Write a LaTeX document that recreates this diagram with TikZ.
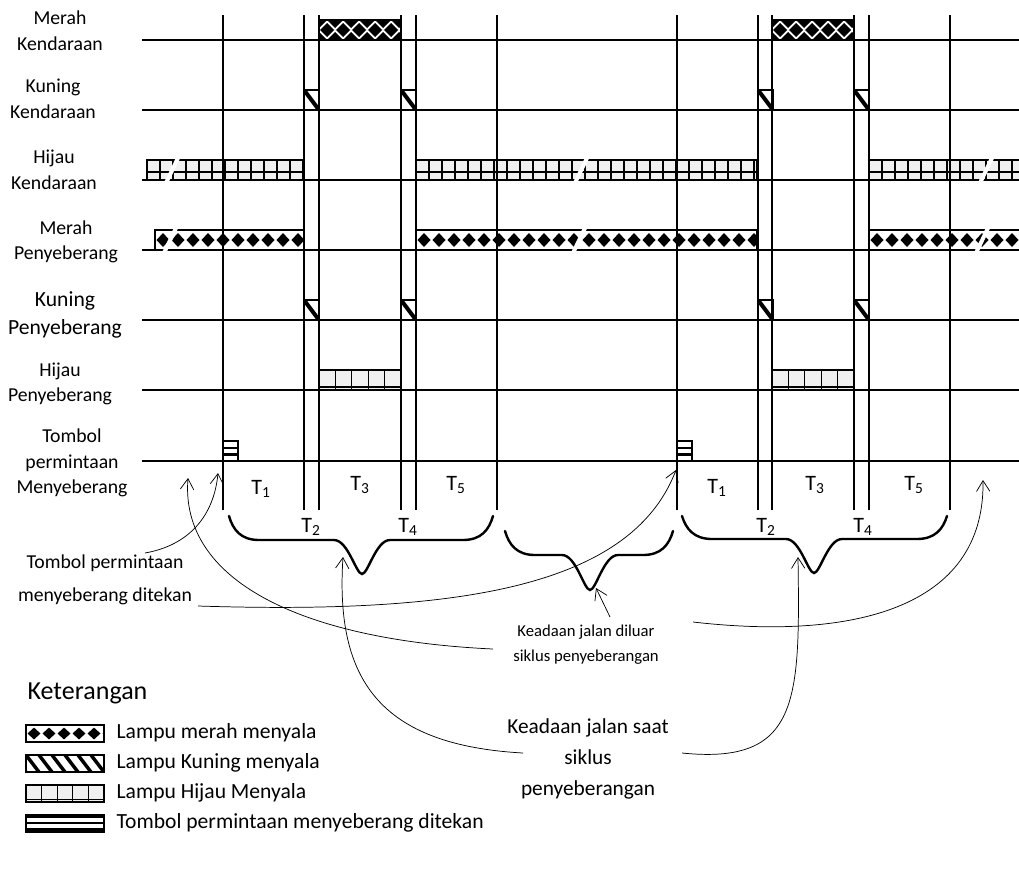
\documentclass[tikz,border=0pt]{standalone}
\usepackage{fontspec}
\setmainfont{Carlito}
\usepackage{tikz}
\usetikzlibrary{arrows.meta,calc}
\definecolor{CellGray}{HTML}{F0F0F0}
\definecolor{CellGrayDark}{HTML}{E4E4E4}
\tikzset{
  gridline/.style={line width=1.5pt},
  rowlabel/.style={align=center,inner sep=1pt,font=\fontsize{14.8}{19.2}\selectfont},
  rowlabelbig/.style={rowlabel,font=\fontsize{16.2}{21}\selectfont},
  tlabel/.style={inner sep=1pt,font=\fontsize{16.5}{18}\selectfont},
  note/.style={align=center,inner sep=1pt,font=\fontsize{14.8}{24.7}\selectfont},
  notesmall/.style={note,font=\fontsize{12.5}{18.8}\selectfont},
  notebig/.style={note,font=\fontsize{16}{23.2}\selectfont},
  legendhead/.style={anchor=west,inner sep=1pt,font=\fontsize{19.5}{22}\selectfont},
  legendtext/.style={anchor=west,inner sep=1pt,font=\fontsize{16.2}{19}\selectfont},
  pointer/.style={-{Straight Barb[length=8pt,width=10pt]},line width=0.55pt},
  bracket/.style={line width=1.8pt,line cap=round},
  slash/.style={white,line width=3pt}
}
\newcommand{\merahbar}[3]{%
  \fill[white] (#1,#3-20) rectangle (#2,#3);
  \begin{scope}
    \clip (#1,#3-20) rectangle (#2,#3);
    \foreach \k in {0,...,24}
      \fill ({#1+8+15*\k},#3-17) -- ++(6.5,7) -- ++(-6.5,7) -- ++(-6.5,-7) -- cycle;
  \end{scope}
  \draw[line width=1pt] (#1,#3-20) rectangle (#2,#3);
}
\newcommand{\merahbarfull}[3]{%
  \fill[white] (#1,#3-20) rectangle (#2,#3);
  \begin{scope}
    \clip (#1,#3-20) rectangle (#2,#3);
    \foreach \k in {0,...,6} {
      \fill ({#1+8+16*\k},#3-17) -- ++(7,7) -- ++(-7,7) -- ++(-7,-7) -- cycle;
      \fill ({#1+16*\k-8},#3-20) -- ++(16,0) -- ++(-8,8) -- cycle;
      \fill ({#1+16*\k-8},#3) -- ++(16,0) -- ++(-8,-8) -- cycle;
    }
  \end{scope}
  \draw[line width=1.8pt] (#1,#3-20) rectangle (#2,#3);
}
\newcommand{\hijaubar}[5]{%
  \fill[CellGray] (#1,#3-20) rectangle (#2,#3);
  \begin{scope}
    \clip (#1,#3-20) rectangle (#2,#3);
    \foreach \k in {1,...,30}
      \draw[line width=0.8pt] ({#1+#4*\k},#3-20) -- ++(0,20);
  \end{scope}
  \draw[line width=0.8pt] (#1,#3-#5) -- (#2,#3-#5);
  \draw[line width=1pt] (#1,#3-20) rectangle (#2,#3);
}
\newcommand{\kuningbox}[2]{%
  \fill[white] (#1,#2-20) rectangle (#1+15,#2);
  \begin{scope}
    \clip (#1,#2-20) rectangle (#1+15,#2);
    \draw[line width=3pt] (#1,#2-20) -- (#1+15,#2);
  \end{scope}
  \draw[line width=0.8pt] (#1,#2-20) rectangle (#1+15,#2);
}
\newcommand{\tombolbox}[2]{%
  \fill[white] (#1,#2-20) rectangle (#1+15,#2);
  \fill (#1,#2-14.5) rectangle (#1+15,#2-12);
  \fill (#1,#2-8) rectangle (#1+15,#2-5.5);
  \draw[line width=1.4pt] (#1,#2-20) rectangle (#1+15,#2);
}
\newcommand{\breakmark}[2]{\draw[slash] (#1-6,#2+3) -- (#1+6,#2-22);}
\newcommand{\cyclebrace}[6]{%
  \draw[bracket] (#1,#4) .. controls (#1+4,#5-10) and (#1+12,#5) .. (#1+30,#5)
    -- (#3-28,#5) .. controls (#3-14,#5) and (#3-6,#6) .. (#3,#6)
    .. controls (#3+6,#6) and (#3+14,#5) .. (#3+28,#5)
    -- (#2-30,#5) .. controls (#2-12,#5) and (#2-4,#5-10) .. (#2,#4);
}

\begin{document}
\begin{tikzpicture}[x=0.75pt,y=-0.75pt]
  \useasboundingbox (0,0) rectangle (1019,872);

  \merahbarfull{319}{401}{40}
  \merahbarfull{772}{854}{40}
  \hijaubar{147}{304}{180}{13}{8}
  \hijaubar{416}{757}{180}{13}{8}
  \hijaubar{869}{1025}{180}{13}{8}
  \merahbar{155}{304}{250}
  \merahbar{416}{757}{250}
  \merahbar{869}{1025}{250}
  \hijaubar{319}{401}{390}{16.4}{3}
  \hijaubar{772}{854}{390}{16.4}{3}
  \foreach \x in {304,401,758,854} {
    \kuningbox{\x}{110}
    \kuningbox{\x}{320}
  }
  \tombolbox{223}{461}
  \tombolbox{677}{461}

  \foreach \y in {40,110,180,250,320,390,461}
    \draw[gridline] (142,\y) -- (1019,\y);
  \foreach \x in {223,304,319,401,416,497,677,758,772,854,869,950}
    \draw[gridline] (\x,15) -- (\x,510);

  \breakmark{172}{180}
  \breakmark{581}{180}
  \breakmark{986}{180}
  \breakmark{170}{250}
  \breakmark{579}{250}
  \breakmark{982}{250}

  \node[rowlabel] (lblMerahK) at (60,31) {Merah\\Kendaraan};
  \node[rowlabel] (lblKuningK) at (53,99) {Kuning\\Kendaraan};
  \node[rowlabel] (lblHijauK) at (54,170) {Hijau\\Kendaraan};
  \node[rowlabel] (lblMerahP) at (66,242) {Merah\\Penyeberang};
  \node[rowlabelbig] (lblKuningP) at (65,315) {Kuning\\Penyeberang};
  \node[rowlabel] (lblHijauP) at (60,384) {Hijau\\Penyeberang};
  \node[rowlabel] (lblTombol) at (72,463) {Tombol\\permintaan\\Menyeberang};

  \node[tlabel] (tA1) at (261,489) {T\textsubscript{1}};
  \node[tlabel] (tA2) at (311,527) {T\textsubscript{2}};
  \node[tlabel] (tA3) at (360,485) {T\textsubscript{3}};
  \node[tlabel] (tA4) at (408,527) {T\textsubscript{4}};
  \node[tlabel] (tA5) at (456,485) {T\textsubscript{5}};
  \node[tlabel] (tB1) at (717,488) {T\textsubscript{1}};
  \node[tlabel] (tB2) at (766,527) {T\textsubscript{2}};
  \node[tlabel] (tB3) at (815,485) {T\textsubscript{3}};
  \node[tlabel] (tB4) at (863,527) {T\textsubscript{4}};
  \node[tlabel] (tB5) at (914,485) {T\textsubscript{5}};

  \cyclebrace{229}{493}{362}{516}{540}{574}
  \cyclebrace{505}{673}{590}{531}{555}{590}
  \cyclebrace{682}{947}{814}{516}{539}{573}

  \node[note] (ketTombol) at (105,580) {Tombol permintaan\\menyeberang ditekan};
  \node[notesmall] (ketDiluar) at (586,645) {Keadaan jalan diluar\\siklus penyeberangan};
  \node[notebig] (ketSaat) at (588,759) {Keadaan jalan saat\\siklus\\penyeberangan};

  \coordinate (tipA) at (218,473);
  \coordinate (tipB) at (676,470);
  \coordinate (tipC) at (188,478);
  \coordinate (tipD) at (983,480);
  \coordinate (tipE) at (596,588);
  \coordinate (tipF) at (343,557);
  \coordinate (tipG) at (798,557);

  \draw[pointer] ($(ketTombol)+(40,-27)$) .. controls +(45,-8) and +(-4,42) .. (tipA);
  \draw[pointer] ($(ketTombol)+(93,26)$) .. controls +(252,8) and +(-46,120) .. (tipB);
  \draw[pointer] ($(ketDiluar)+(-93,4)$) .. controls +(-193,-9) and +(-8,102) .. (tipC);
  \draw[pointer] ($(ketDiluar)+(107,-23)$) .. controls +(157,18) and +(2,130) .. (tipD);
  \draw[pointer] ($(ketDiluar)+(24,-28)$) -- (tipE);
  \draw[pointer] ($(ketSaat)+(-65,-6)$) .. controls +(-143,-8) and +(-8,123) .. (tipF);
  \draw[pointer] ($(ketSaat)+(94,-6)$) .. controls +(118,12) and +(2,143) .. (tipG);

  \node[legendhead] (legHead) at (26,693) {Keterangan};
  \begin{scope}[shift={(26,742)},yscale=0.85]
    \merahbar{0}{78}{0}
  \end{scope}
  \begin{scope}
    \clip (26,755) rectangle (104,772);
    \foreach \k in {-1,...,6}
      \draw[line width=2.6pt] ({26+13*\k},755) -- ++(13,17);
  \end{scope}
  \draw[line width=1.2pt] (26,755) rectangle (104,772);
  \begin{scope}[shift={(26,802)},yscale=0.85]
    \hijaubar{0}{78}{0}{15.6}{2.5}
  \end{scope}
  \fill[white] (26,815) rectangle (104,832);
  \fill (26,815) rectangle (104,817.5);
  \fill (26,821.5) rectangle (104,824);
  \fill (26,828) rectangle (104,832);
  \draw[line width=1.2pt] (26,815) rectangle (104,832);
  \node[legendtext] (legMerah) at (115,733) {Lampu merah menyala};
  \node[legendtext] (legKuning) at (115,763) {Lampu Kuning menyala};
  \node[legendtext] (legHijau) at (115,793) {Lampu Hijau Menyala};
  \node[legendtext] (legTombol) at (115,823) {Tombol permintaan menyeberang ditekan};
\end{tikzpicture}
\end{document}
